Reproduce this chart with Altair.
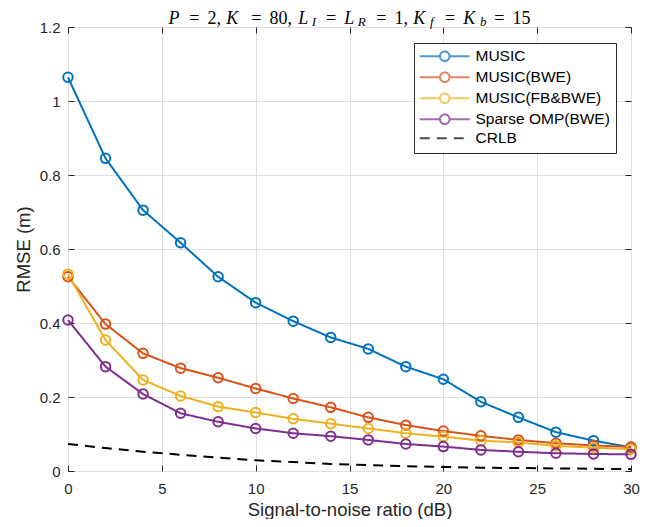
import altair as alt
import pandas as pd

# ---------------- data ----------------
snr = [0, 2, 4, 6, 8, 10, 12, 14, 16, 18, 20, 22, 24, 26, 28, 30]
music = [1.064, 0.845, 0.705, 0.617, 0.525, 0.455, 0.405, 0.361, 0.330, 0.282,
         0.248, 0.187, 0.145, 0.105, 0.082, 0.064]
music_bwe = [0.525, 0.397, 0.318, 0.278, 0.252, 0.223, 0.196, 0.172, 0.145, 0.124,
             0.108, 0.095, 0.084, 0.075, 0.069, 0.065]
music_fb_bwe = [0.532, 0.354, 0.246, 0.203, 0.174, 0.158, 0.141, 0.128, 0.115, 0.102,
                0.093, 0.082, 0.077, 0.068, 0.063, 0.059]
omp_bwe = [0.408, 0.282, 0.208, 0.156, 0.133, 0.115, 0.102, 0.094, 0.084, 0.073,
           0.066, 0.057, 0.052, 0.048, 0.046, 0.045]
crlb = [0.073, 0.062, 0.052, 0.044, 0.036, 0.029, 0.024, 0.019, 0.016, 0.013,
        0.011, 0.009, 0.008, 0.007, 0.006, 0.005]

series_names = ["MUSIC", "MUSIC(BWE)", "MUSIC(FB&BWE)", "Sparse OMP(BWE)", "CRLB"]
series_values = [music, music_bwe, music_fb_bwe, omp_bwe, crlb]
series_colors = ["#0072BD", "#D95319", "#EDB120", "#7E2F8E", "#000000"]
series_dashes = [[1, 0], [1, 0], [1, 0], [1, 0], [10, 7]]

x_ticks = [0, 5, 10, 15, 20, 25, 30]
y_ticks = [0, 0.2, 0.4, 0.6, 0.8, 1, 1.2]

x_title = "Signal-to-noise ratio (dB)"
y_title = "RMSE (m)"

# title pieces: text, style, position in em (LaTeX-like layout)
title_pieces = [
    ("P", "it", 0.0), ("=", "eq", 0.920), ("2,", "n", 1.976),
    ("K", "it", 2.921), ("=", "eq", 4.048), ("80,", "n", 5.104),
    ("L", "it", 6.549), ("I", "sub", 7.230), ("=", "eq", 7.816),
    ("L", "it", 8.872), ("R", "sub", 9.553), ("=", "eq", 10.362),
    ("1,", "n", 11.418), ("K", "it", 12.363), ("f", "sub", 13.212),
    ("=", "eq", 13.833), ("K", "it", 14.889), ("b", "sub", 15.738),
    ("=", "eq", 16.316), ("15", "n", 17.372),
]

rows = []
for name, vals in zip(series_names, series_values):
    for s, v in zip(snr, vals):
        rows.append({"snr": s, "rmse": v, "series": name})
df = pd.DataFrame(rows)

# ---------------- styling ----------------
W, H = 563, 444
SANS = "Liberation Sans"
SERIF = "Liberation Serif"
AX = "#262626"

x_scale = alt.Scale(domain=[0, 30], nice=False, zero=False)
y_scale = alt.Scale(domain=[0, 1.2], nice=False, zero=False)
color_scale = alt.Scale(domain=series_names, range=series_colors)
dash_scale = alt.Scale(domain=series_names, range=series_dashes)

marker_path = ("M-5,0L-0.96,0M0.96,0L5,0M-0.96,0A0.96,0.96,0,1,1,0.96,0"
               "A0.96,0.96,0,1,1,-0.96,0")
dash_path = "M-5,0L5,0"
shape_scale = alt.Scale(domain=series_names,
                        range=[marker_path] * 4 + [dash_path])

tick_common = dict(domain=False, tickSize=6, tickColor=AX, tickWidth=1, offset=-6)

bottom_axis = alt.Axis(orient="bottom", values=x_ticks, format="~g", grid=True,
                       gridColor="#dfdfdf", gridWidth=1, labelFont=SANS,
                       labelFontSize=15, labelColor=AX, labelPadding=10,
                       labelFlush=False, title=x_title, titleFont=SANS,
                       titleFontSize=18.5, titleFontWeight="normal",
                       titleColor=AX, titlePadding=4, **tick_common)
left_axis = alt.Axis(orient="left", values=y_ticks, format="~g", grid=True,
                     gridColor="#dfdfdf", gridWidth=1, labelFont=SANS,
                     labelFontSize=15, labelColor=AX, labelPadding=8,
                     title=y_title, titleFont=SANS, titleFontSize=18.5,
                     titleFontWeight="normal", titleColor=AX, titlePadding=6,
                     **tick_common)
top_axis = alt.Axis(orient="top", values=x_ticks, labels=False, grid=False,
                    title=None, **tick_common)
right_axis = alt.Axis(orient="right", values=y_ticks, labels=False, grid=False,
                      title=None, **tick_common)

legend_def = alt.Legend(orient="none", legendX=346, legendY=16, title=None,
                        labelFont=SANS, labelFontSize=15.5, labelColor="#000000",
                        symbolSize=100, symbolStrokeWidth=2, symbolOffset=17.5,
                        labelOffset=23, rowPadding=2.0, padding=5.5,
                        strokeColor=AX, fillColor="white", labelLimit=300)

lines = alt.Chart(df).mark_line(strokeWidth=2).encode(
    x=alt.X("snr:Q", scale=x_scale, axis=bottom_axis),
    y=alt.Y("rmse:Q", scale=y_scale, axis=left_axis),
    color=alt.Color("series:N", scale=color_scale, legend=None),
    strokeDash=alt.StrokeDash("series:N", scale=dash_scale, legend=None),
)

points = alt.Chart(df).transform_filter("datum.series != 'CRLB'").mark_point(
    filled=False, size=90, strokeWidth=2, opacity=1
).encode(
    x=alt.X("snr:Q", scale=x_scale, axis=None),
    y=alt.Y("rmse:Q", scale=y_scale, axis=None),
    color=alt.Color("series:N", scale=color_scale, legend=None),
)

legend_carrier = alt.Chart(df).transform_filter("false").mark_point(
    filled=False, strokeWidth=2
).encode(
    x=alt.X("snr:Q", scale=x_scale, axis=top_axis),
    y=alt.Y("rmse:Q", scale=y_scale, axis=right_axis),
    color=alt.Color("series:N", scale=color_scale, legend=legend_def),
    shape=alt.Shape("series:N", scale=shape_scale, legend=legend_def),
    strokeDash=alt.StrokeDash("series:N", scale=dash_scale, legend=legend_def),
)

# title made of text pieces (LaTeX-like)
EM = 19.8
TX0 = 100.5
TY = -3.2
FS = 18
title_layers = []
for txt, style, pos in title_pieces:
    px = TX0 + pos * EM
    if style == "eq":
        mk = alt.Chart(pd.DataFrame({"t": [txt]})).mark_text(
            font=SERIF, fontSize=FS, align="center", baseline="alphabetic",
            color="#000000")
        px = px + 0.389 * EM
        py = TY
    elif style == "n":
        mk = alt.Chart(pd.DataFrame({"t": [txt]})).mark_text(
            font=SERIF, fontSize=FS, align="left", baseline="alphabetic",
            color="#000000")
        py = TY
    elif style == "it":
        mk = alt.Chart(pd.DataFrame({"t": [txt]})).mark_text(
            font=SERIF, fontSize=FS, fontStyle="italic", align="left",
            baseline="alphabetic", color="#000000")
        py = TY
    else:
        mk = alt.Chart(pd.DataFrame({"t": [txt]})).mark_text(
            font=SERIF, fontSize=13, fontStyle="italic", align="left",
            baseline="alphabetic", color="#000000")
        py = TY + 2.5
    title_layers.append(mk.encode(text="t:N", x=alt.value(px), y=alt.value(py)))

chart = alt.layer(lines, points, legend_carrier, *title_layers).resolve_scale(
    color="independent", strokeDash="independent", shape="independent"
).resolve_axis(
    x="independent", y="independent"
).properties(
    width=W, height=H,
    padding={"left": 60, "top": 19, "right": 15, "bottom": 48},
    autosize=alt.AutoSizeParams(type="none"),
    background="white",
).configure_view(stroke=AX, strokeWidth=1)

chart.save("out.html", embed_options={"renderer": "svg", "actions": False})
